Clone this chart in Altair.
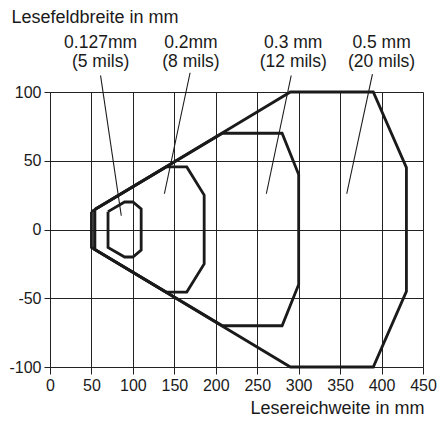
import altair as alt
import pandas as pd

# Reading-field polygons (x = reading distance mm, y = field width mm)
shape_names = ["0.127", "0.2", "0.3", "0.5"]
s127_x = [70, 90, 100, 110, 110, 100, 90, 70, 70]
s127_y = [13, 20, 20, 15, -15, -20, -20, -13, 13]
s02_x = [54, 140, 165, 186, 186, 165, 140, 54, 54]
s02_y = [14.5, 45.5, 45.5, 25, -25, -45.5, -45.5, -14.5, 14.5]
s03_x = [54, 208, 280, 300, 300, 280, 208, 54, 54]
s03_y = [14.5, 70, 70, 40, -40, -70, -70, -14.5, 14.5]
s05_x = [50, 290, 390, 430, 430, 390, 290, 50, 50]
s05_y = [13, 100, 100, 45, -45, -100, -100, -13, 13]

# Leader lines
lead_x1 = [61, 169, 291, 389]
lead_y1 = [112, 114, 112, 113]
lead_x2 = [86, 138, 261, 358]
lead_y2 = [10, 26, 26, 26]

# Labels
label_x = [61, 170, 293.5, 400]
label_line1 = ["0.127mm", "0.2mm", "0.3 mm", "0.5 mm"]
label_line2 = ["(5 mils)", "(8 mils)", "(12 mils)", "(20 mils)"]
label_y1 = 136
label_y2 = 121.7

x_ticks = [0, 50, 100, 150, 200, 250, 300, 350, 400, 450]
y_ticks = [-100, -50, 0, 50, 100]

rows = []
for name, xs, ys in zip(shape_names, [s127_x, s02_x, s03_x, s05_x], [s127_y, s02_y, s03_y, s05_y]):
    for i, (a, b) in enumerate(zip(xs, ys)):
        rows.append({"shape": name, "i": i, "x": a, "y": b})
poly = pd.DataFrame(rows)

leads = pd.DataFrame({"x": lead_x1, "y": lead_y1, "x2": lead_x2, "y2": lead_y2})
labels = pd.DataFrame(
    {"x": label_x * 2,
     "y": [label_y1] * 4 + [label_y2] * 4,
     "t": label_line1 + label_line2}
)

FONT = "Liberation Sans"

xscale = alt.Scale(domain=[0, 450], nice=False)
yscale = alt.Scale(domain=[-100, 100], nice=False)

xaxis = alt.Axis(values=x_ticks, title="Lesereichweite in mm", grid=True,
                 titleAlign="right", titleAnchor="end", titleX=374, titleY=46,
                 titleBaseline="alphabetic", tickSize=7, labelPadding=3,
                 labelFlush=False, labelOverlap=False,
                 labelExpr="'' + datum.value")
yaxis = alt.Axis(values=y_ticks, title="Lesefeldbreite in mm", grid=True,
                 titleAngle=0, titleAlign="left", titleX=-39, titleY=-70,
                 titleBaseline="alphabetic", tickSize=6, labelPadding=3,
                 labelFlush=False, labelOverlap=False,
                 labelExpr="'' + datum.value")

lines = alt.Chart(poly).mark_line(color="#1a1a1a", strokeWidth=2.8, clip=False,
                                  strokeJoin="miter").encode(
    x=alt.X("x:Q", scale=xscale, axis=xaxis),
    y=alt.Y("y:Q", scale=yscale, axis=yaxis),
    detail="shape:N",
    order="i:Q",
)

rules = alt.Chart(leads).mark_rule(color="#1a1a1a", strokeWidth=1.1, clip=False).encode(
    x="x:Q", y="y:Q", x2="x2:Q", y2="y2:Q"
)

texts = alt.Chart(labels).mark_text(font=FONT, fontSize=17.5, color="#1a1a1a",
                                    baseline="middle", align="center", clip=False).encode(
    x="x:Q", y="y:Q", text="t:N"
)

chart = alt.layer(lines, rules, texts).properties(
    width=373, height=275,
    autosize=alt.AutoSizeParams(type="none"),
    padding={"left": 42, "top": 84, "right": 14, "bottom": 50},
).configure_axis(
    gridColor="#222222", gridWidth=1, gridOpacity=1,
    domainColor="#222222", domainWidth=1,
    tickColor="#222222", tickWidth=1,
    labelFont=FONT, labelFontSize=16, labelColor="#1a1a1a",
    titleFont=FONT, titleFontSize=18, titleFontWeight="normal", titleColor="#1a1a1a",
).configure_view(stroke=None)

chart.save("out.html", embed_options={"renderer": "svg", "actions": False})
